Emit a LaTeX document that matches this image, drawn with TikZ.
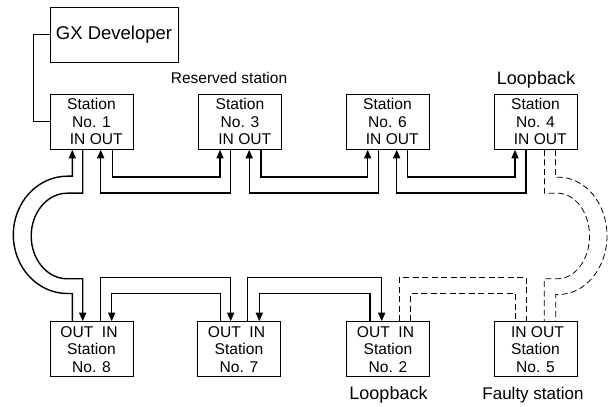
\documentclass[tikz,border=0pt]{standalone}
\usepackage{fontspec}
\setmainfont{Liberation Sans}
\usetikzlibrary{arrows.meta}

\begin{document}
\begin{tikzpicture}[x=1pt, y=1pt,
    stn/.style={draw, line width=1pt, minimum width=83pt, minimum height=55pt, inner sep=0pt, align=center, font=\fontsize{15.6}{17.5}\selectfont},
    flow/.style={line width=1.4pt, -{Triangle[length=8.5pt, width=7pt]}},
    wire/.style={line width=1.3pt},
    dead/.style={line width=0.8pt, dash pattern=on 6pt off 3.5pt},
    lbl/.style={anchor=base}]
  \useasboundingbox (0,0) rectangle (608,407);

  % Programming tool
  \node[stn, minimum width=128pt, font=\fontsize{18.5}{20}\selectfont] (gx) at (114,372.2) {GX Developer};

  % Upper row of stations
  \node[stn] (s1) at (91.5,285.2) {Station\\No. 1\\\hspace*{9.6pt}IN OUT};
  \node[stn] (s3) at (240,285.2) {Station\\No. 3\\\hspace*{9.6pt}IN OUT};
  \node[stn] (s6) at (387.5,285.2) {Station\\No. 6\\\hspace*{9.6pt}IN OUT};
  \node[stn] (s4) at (535.5,285.2) {Station\\No. 4\\\hspace*{9.6pt}IN OUT};

  % Lower row of stations
  \node[stn] (s8) at (91.5,57.8) {OUT\ \ IN\hspace*{5pt}\\Station\\No. 8};
  \node[stn] (s7) at (239,57.8) {OUT\ \ IN\hspace*{5pt}\\Station\\No. 7};
  \node[stn] (s2) at (388,57.8) {OUT\ \ IN\hspace*{5pt}\\Station\\No. 2};
  \node[stn] (s5) at (535.5,57.8) {\hspace*{4pt}IN OUT\\Station\\No. 5};

  % Labels
  \node[lbl, font=\fontsize{15.5}{17}\selectfont] (rsv) at (229,323) {Reserved station};
  \node[lbl, font=\fontsize{18}{20}\selectfont] (lb4) at (536,322) {Loopback};
  \node[lbl, font=\fontsize{18}{20}\selectfont] (lb2) at (388.5,7) {Loopback};
  \node[lbl, font=\fontsize{17}{19}\selectfont] (flt) at (533,7) {Faulty station};

  % Link to the tool
  \draw[wire] (gx.west) -- ++(-16.3,0) |- (s1.west);

  % Upper row connections
  \draw[flow] ([xshift=21pt]s1.south) -- ++(0,-27.4) -| ([xshift=-20pt]s3.south);
  \draw[flow] ([xshift=-9.3pt]s3.south) -- ++(0,-43.4) -| ([xshift=9.2pt]s1.south);
  \draw[flow] ([xshift=21pt]s3.south) -- ++(0,-27.4) -| ([xshift=-19.8pt]s6.south);
  \draw[flow] ([xshift=-9.2pt]s6.south) -- ++(0,-43.4) -| ([xshift=9.2pt]s3.south);
  \draw[flow] ([xshift=19.8pt]s6.south) -- ++(0,-27.4) -| ([xshift=-20.5pt]s4.south);
  \draw[flow] ([xshift=-9.5pt]s4.south) -- ++(0,-43.4) -| ([xshift=9.2pt]s6.south);

  % Lower row connections
  \draw[flow] ([xshift=9.2pt]s8.north) -- ++(0,43.4) -| ([xshift=-8.3pt]s7.north);
  \draw[flow] ([xshift=-18.3pt]s7.north) -- ++(0,27.7) -| ([xshift=20.2pt]s8.north);
  \draw[flow] ([xshift=8.3pt]s7.north) -- ++(0,43.4) -| ([xshift=-6.3pt]s2.north);
  \draw[flow] ([xshift=-18pt]s2.north) -- ++(0,27.7) -| ([xshift=20.3pt]s7.north);
  \draw[dead] ([xshift=11.3pt]s2.north) -- ++(0,43.4) -| ([xshift=-8.8pt]s5.north);
  \draw[dead] ([xshift=22.7pt]s2.north) -- ++(0,27.7) -| ([xshift=-20.5pt]s5.north);

  % Left turn (through No. 1 and No. 8)
  \draw[flow] ([xshift=-19.2pt]s8.north) -- ++(0,27.7) -- ++(-5,0)
    arc[start angle=270, end angle=90, x radius=54, y radius=58.65] -| ([xshift=-19.2pt]s1.south);
  \draw[flow] ([xshift=-8.8pt]s1.south) -- ++(0,-43.4) -- ++(-15.5,0)
    arc[start angle=90, end angle=270, x radius=36, y radius=42.8] -| ([xshift=-8.8pt]s8.north);

  % Right turn (broken, through No. 5)
  \draw[dead] ([xshift=9pt]s4.south) -- ++(0,-43.4) -- ++(13,0)
    arc[start angle=90, end angle=-90, x radius=32, y radius=42.8] -| ([xshift=8.8pt]s5.north);
  \draw[dead] ([xshift=20pt]s4.south) -- ++(0,-27.4) -- ++(3,0)
    arc[start angle=90, end angle=-90, x radius=48.5, y radius=58.65] -| ([xshift=20.2pt]s5.north);
\end{tikzpicture}
\end{document}
